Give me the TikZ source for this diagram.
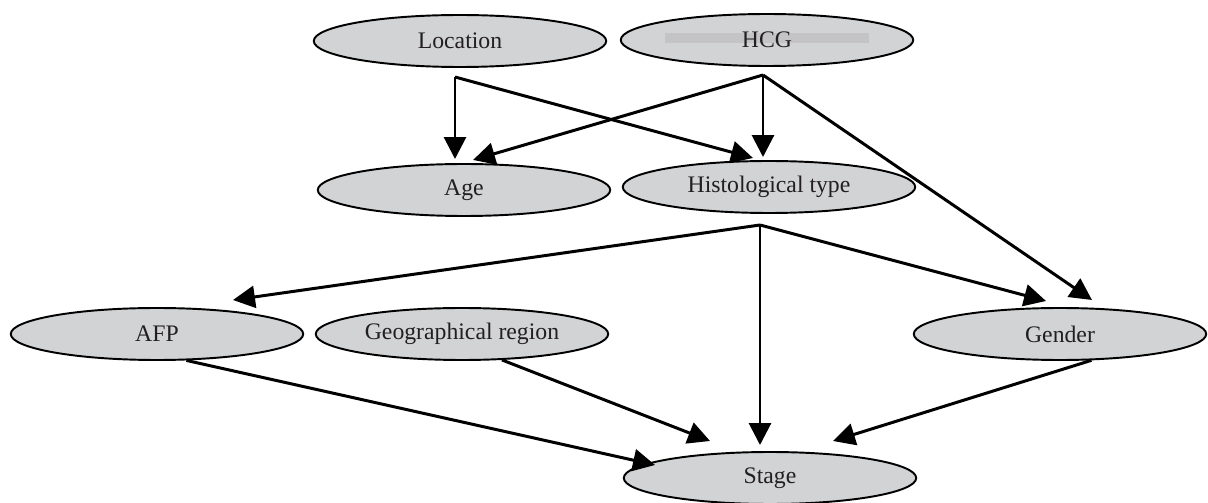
\documentclass[tikz,border=0pt]{standalone}
\usepackage{fontspec}
\setmainfont{Liberation Serif}
\usepackage{tikz}
\usetikzlibrary{shapes.geometric,arrows.meta}
\definecolor{nodegray}{RGB}{209,211,212}
\definecolor{bargray}{RGB}{196,196,198}
\definecolor{inkgray}{RGB}{35,31,32}
\tikzset{
    var/.style={ellipse, draw, fill=nodegray, line width=1.1pt, inner sep=0mm,
        minimum width=5.85cm, minimum height=1.04cm,
        font=\fontsize{13.5}{16}\selectfont, text=inkgray},
    arr/.style={line width=1.7pt, -{Triangle[length=12.5pt, width=12.5pt]}}
}

\begin{document}
\begin{tikzpicture}[x=0.02cm, y=-0.02cm]
  \useasboundingbox (0,0) rectangle (1208,503);

  \node (loc) [var] at (460, 41) {Location};
  \node (hcg) [var, path picture={
      \fill[bargray] ([shift={(-58pt,-1.7pt)}]path picture bounding box.center)
        rectangle ([shift={(58pt,4pt)}]path picture bounding box.center);}]
      at (767, 40) {HCG};
  \node (age) [var] at (464, 190) {Age};
  \node (hist) [var] at (769, 187) {Histological type};
  \node (afp) [var] at (157, 334) {AFP};
  \node (geo) [var] at (462, 334) {Geographical region};
  \node (gender) [var] at (1060, 334) {Gender};
  \node (stage) [var] at (770, 478) {Stage};

  % branch points
  \coordinate (locout) at (455, 77);
  \coordinate (hcgout) at (763, 75);
  \coordinate (histout) at (760, 225);

  % arrow tips
  \coordinate (agein1) at (455, 159);
  \coordinate (agein2) at (473, 160);
  \coordinate (histin1) at (753, 158);
  \coordinate (histin2) at (763, 157);
  \coordinate (afpin) at (233, 300);
  \coordinate (genderin1) at (1046, 301);
  \coordinate (genderin2) at (1092, 300);
  \coordinate (stagein1) at (655, 465);
  \coordinate (stagein2) at (710, 441);
  \coordinate (stagein3) at (760, 445);
  \coordinate (stagein4) at (833, 441);

  \draw (locout) edge [arr] (agein1);
  \draw (locout) edge [arr] (histin1);
  \draw (hcgout) edge [arr] (agein2);
  \draw (hcgout) edge [arr] (histin2);
  \draw (hcgout) edge [arr] (genderin2);

  \draw (histout) edge [arr] (afpin);
  \draw (histout) edge [arr] (genderin1);
  \draw (histout) edge [arr] (stagein3);

  \draw (afp.-42) edge [arr] (stagein1);
  \draw (geo.-33) edge [arr] (stagein2);
  \draw (gender.-40) edge [arr] (stagein4);
\end{tikzpicture}
\end{document}
